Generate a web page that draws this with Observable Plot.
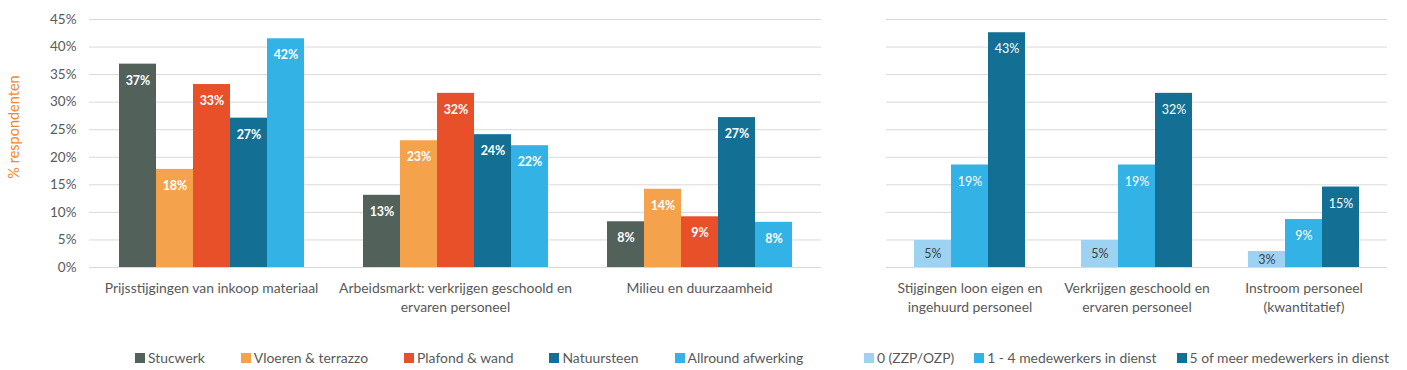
<!DOCTYPE html>
<html>
<head>
<meta charset="utf-8">
<script src="https://cdn.jsdelivr.net/npm/d3@7"></script>
<script src="https://cdn.jsdelivr.net/npm/@observablehq/plot@0.6"></script>
<style>
  html, body { margin: 0; padding: 0; background: #ffffff; }
  #chart { position: relative; width: 1407px; height: 370px; font-family: Lato, "Open Sans", sans-serif; color: #595959; overflow: hidden; }
  .panel { position: absolute; top: 0; }
  .ytitle { position: absolute; left: 13px; top: 127px; transform: translate(-50%, -50%) rotate(-90deg); white-space: nowrap; color: #F0882E; font-size: 14.5px; }
  .legend { position: absolute; top: 349px; display: flex; align-items: center; font-size: 13.9px; color: #595959; white-space: nowrap; }
  .legend .item { display: flex; align-items: center; }
  .legend .sw { width: 10px; height: 10px; margin-right: 3px; display: inline-block; }
</style>
</head>
<body>
<div id="chart">
  <div class="panel" id="left" style="left:0px"></div>
  <div class="panel" id="right" style="left:850px"></div>
  <div class="ytitle">% respondenten</div>
  <div class="legend" id="legendLeft" style="left:135px; gap:36px"></div>
  <div class="legend" id="legendRight" style="left:864px; gap:20px"></div>
</div>
<script>
// ---- Data: left panel ----
const categoriesLeft = ["Prijsstijgingen van inkoop materiaal", "Arbeidsmarkt: verkrijgen geschoold en ervaren personeel", "Milieu en duurzaamheid"];
const tickLabelsLeft = ["Prijsstijgingen van inkoop materiaal", "Arbeidsmarkt: verkrijgen geschoold en\nervaren personeel", "Milieu en duurzaamheid"];
const seriesLeft = ["Stucwerk", "Vloeren & terrazzo", "Plafond & wand", "Natuursteen", "Allround afwerking"];
const colorsLeft = ["#53615B", "#F5A24D", "#E8502A", "#136F93", "#33B2E6"];
const stucwerk    = [36.9, 13.1, 8.3];
const vloeren     = [17.8, 23.0, 14.2];
const plafond     = [33.2, 31.6, 9.2];
const natuursteen = [27.1, 24.1, 27.2];
const allround    = [41.5, 22.1, 8.2];

// ---- Data: right panel ----
const categoriesRight = ["Stijgingen loon eigen en ingehuurd personeel", "Verkrijgen geschoold en ervaren personeel", "Instroom personeel (kwantitatief)"];
const tickLabelsRight = ["Stijgingen loon eigen en\ningehuurd personeel", "Verkrijgen geschoold en\nervaren personeel", "Instroom personeel\n(kwantitatief)"];
const seriesRight = ["0 (ZZP/OZP)", "1 - 4 medewerkers in dienst", "5 of meer medewerkers in dienst"];
const colorsRight = ["#9DD3F2", "#33B2E6", "#136F93"];
const zzp   = [4.9, 4.9, 2.9];
const klein = [18.6, 18.6, 8.7];
const groot = [42.6, 31.6, 14.6];

// ---- Axis ticks ----
const yTicks = [0, 5, 10, 15, 20, 25, 30, 35, 40, 45];
const yDomain = [0, 45];

// ---- Build tidy tables ----
function tidy(categories, series, values) {
  return series.flatMap((s, i) => categories.map((c, j) => ({cat: c, series: s, value: values[i][j]})));
}
const leftData = tidy(categoriesLeft, seriesLeft, [stucwerk, vloeren, plafond, natuursteen, allround]);
const rightData = tidy(categoriesRight, seriesRight, [zzp, klein, groot]);

const pct = d => Math.round(d.value) + "%";
const labelY = d => Math.max(d.value - 3, d.value / 2);

const common = {
  height: 320,
  marginTop: 19,
  marginBottom: 53,
  style: {fontFamily: "Lato, 'Open Sans', sans-serif", fontSize: "13px", color: "#595959", background: "transparent"},
  y: {domain: yDomain, label: null}
};

const left = Plot.plot({
  ...common,
  width: 840,
  marginLeft: 89,
  marginRight: 19,
  fx: {domain: categoriesLeft, padding: 0, label: null},
  x: {domain: seriesLeft, paddingInner: 0, paddingOuter: 0.75, axis: null},
  color: {domain: seriesLeft, range: colorsLeft},
  marks: [
    Plot.gridY(yTicks, {stroke: "#d9d9d9", strokeOpacity: 1, strokeWidth: 1}),
    Plot.axisY(yTicks, {tickSize: 0, tickPadding: 13, tickFormat: d => d + "%", fill: "#595959", fontSize: 13.5}),
    Plot.axisFx({anchor: "bottom", tickSize: 0, tickPadding: 12, fontSize: 13.9, lineHeight: 1.36, fill: "#595959",
      tickFormat: d => tickLabelsLeft[categoriesLeft.indexOf(d)]}),
    Plot.barY(leftData, {fx: "cat", x: "series", y: "value", fill: "series"}),
    Plot.text(leftData, {fx: "cat", x: "series", y: labelY, text: pct, fill: "white", fontSize: 12.5, fontWeight: "bold"})
  ]
});
document.getElementById("left").appendChild(left);

const right = Plot.plot({
  ...common,
  width: 557,
  marginLeft: 35,
  marginRight: 19,
  fx: {domain: categoriesRight, padding: 0, label: null},
  x: {domain: seriesRight, paddingInner: 0, paddingOuter: 0.74, axis: null},
  y: {domain: yDomain, label: null, axis: null},
  color: {domain: seriesRight, range: colorsRight},
  marks: [
    Plot.gridY(yTicks, {stroke: "#d9d9d9", strokeOpacity: 1, strokeWidth: 1}),
    Plot.axisFx({anchor: "bottom", tickSize: 0, tickPadding: 12, fontSize: 13.9, lineHeight: 1.36, fill: "#595959",
      tickFormat: d => tickLabelsRight[categoriesRight.indexOf(d)]}),
    Plot.barY(rightData, {fx: "cat", x: "series", y: "value", fill: "series"}),
    Plot.text(rightData, {fx: "cat", x: "series", y: labelY, text: pct, fontSize: 12.5,
      fill: d => d.series === seriesRight[0] ? "#404040" : "white",
      fontWeight: d => d.series === seriesRight[0] ? "normal" : "bold"})
  ]
});
document.getElementById("right").appendChild(right);

// ---- Legends ----
function legend(id, series, colors) {
  const el = document.getElementById(id);
  series.forEach((s, i) => {
    const item = document.createElement("div");
    item.className = "item";
    const sw = document.createElement("span");
    sw.className = "sw";
    sw.style.background = colors[i];
    const t = document.createElement("span");
    t.textContent = s;
    item.appendChild(sw);
    item.appendChild(t);
    el.appendChild(item);
  });
}
legend("legendLeft", seriesLeft, colorsLeft);
legend("legendRight", seriesRight, colorsRight);
</script>
</body>
</html>
